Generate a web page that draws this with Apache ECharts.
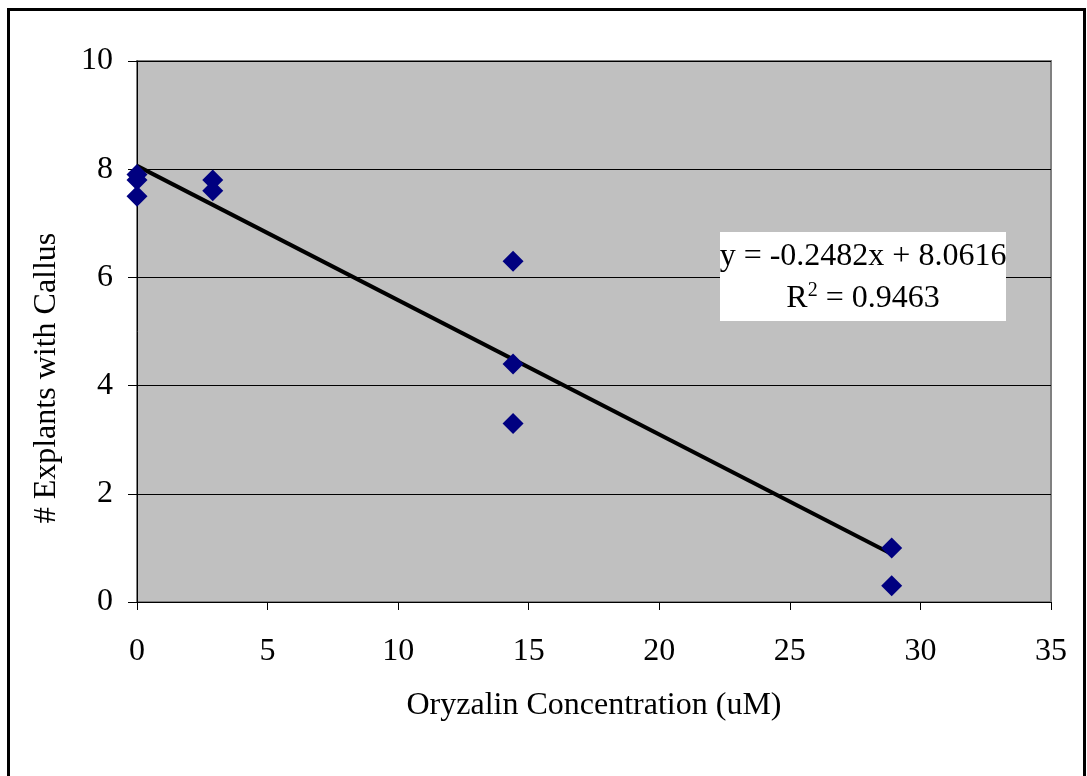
<!DOCTYPE html>
<html><head><meta charset="utf-8">
<script src="https://cdn.jsdelivr.net/npm/echarts@6/dist/echarts.min.js"></script>
<style>html,body{margin:0;padding:0;background:#fff}#c{width:1087px;height:776px}</style>
</head><body><div id="c"></div>
<script>
const concentrations = [0, 0, 0, 2.9, 2.9, 14.4, 14.4, 14.4, 28.9, 28.9];
const explants = [7.9, 7.8, 7.5, 7.8, 7.6, 6.3, 4.4, 3.3, 1.0, 0.3];
const trendSlope = -0.2482;
const trendIntercept = 8.0616;
const trendRange = [0, 28.9];
const equationText = 'y = -0.2482x + 8.0616';
const r2Text = '0.9463';
const xTitle = 'Oryzalin Concentration (uM)';
const yTitle = '# Explants with Callus';

const font = 'Liberation Serif, Times New Roman, serif';
const fs = 32;
const chart = echarts.init(document.getElementById('c'));
const pts = concentrations.map((x, i) => [x, explants[i]]);
const trend = trendRange.map(x => [x, trendSlope * x + trendIntercept]);

chart.setOption({
  animation: false,
  grid: {left: 137, top: 61, right: 36, bottom: 174, show: true,
    backgroundColor: '#C0C0C0', borderColor: '#808080', borderWidth: 2},
  xAxis: {type: 'value', min: 0, max: 35, interval: 5,
    name: xTitle, nameLocation: 'middle', nameGap: 88,
    nameTextStyle: {fontFamily: font, fontSize: fs, color: '#000'},
    axisLine: {onZero: false, lineStyle: {color: '#000', width: 1}},
    axisTick: {show: true, length: 8, lineStyle: {color: '#000'}},
    axisLabel: {fontFamily: font, fontSize: fs, color: '#000', margin: 34},
    splitLine: {show: false}},
  yAxis: {type: 'value', min: 0, max: 10, interval: 2,
    axisLine: {show: true, lineStyle: {color: '#000', width: 1}},
    axisTick: {show: true, length: 9, lineStyle: {color: '#000'}},
    axisLabel: {fontFamily: font, fontSize: fs, color: '#000', margin: 24},
    splitLine: {show: true, lineStyle: {color: '#000', width: 1}}},
  series: [
    {type: 'line', data: trend, symbol: 'none', z: 3,
      lineStyle: {color: '#000', width: 4}},
    {type: 'scatter', data: pts, symbol: 'diamond', symbolSize: 21, z: 4,
      itemStyle: {color: '#000080', opacity: 1}}
  ],
  graphic: [
    {type: 'rect', shape: {x: 8.5, y: 9.5, width: 1076, height: 800},
      style: {fill: 'none', stroke: '#000', lineWidth: 3}, z: 10},
    {type: 'text', x: 47, y: 378, rotation: Math.PI / 2, z: 6,
      style: {text: yTitle, font: fs + 'px ' + font, fill: '#000', align: 'center', verticalAlign: 'middle'}},
    {type: 'rect', shape: {x: 720, y: 232, width: 286, height: 89},
      style: {fill: '#fff'}, z: 5},
    {type: 'text', x: 863, y: 257, z: 6,
      style: {text: equationText, font: fs + 'px ' + font, fill: '#000', align: 'center', verticalAlign: 'middle'}},
    {type: 'text', x: 863, y: 298, z: 6,
      style: {text: '{n|R}{s|2}{n| = ' + r2Text + '}', align: 'center', verticalAlign: 'middle',
        rich: {n: {fontFamily: font, fontSize: fs, lineHeight: 34, fill: '#000', verticalAlign: 'bottom'},
               s: {fontFamily: font, fontSize: 20, lineHeight: 20, padding: [0, 0, 14, 0], fill: '#000', verticalAlign: 'bottom'}}}}
  ]
});
</script></body></html>
